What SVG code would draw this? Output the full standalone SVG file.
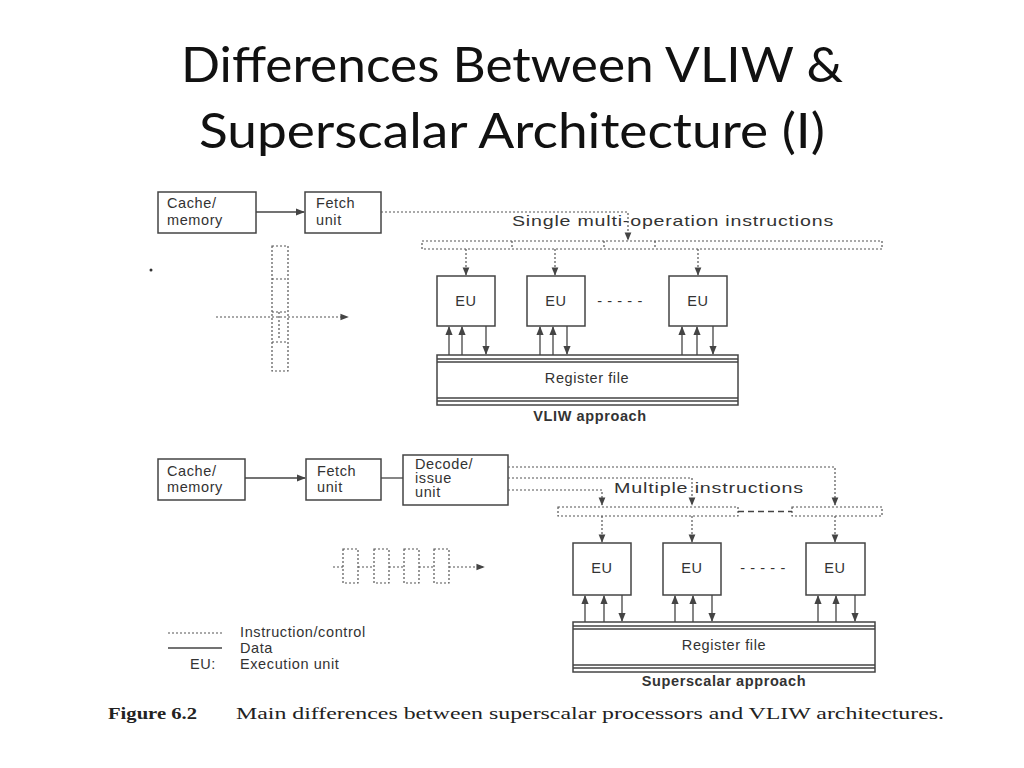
<svg xmlns="http://www.w3.org/2000/svg" width="1024" height="768" viewBox="0 0 1024 768">
<style>
.t{font-family:"Liberation Sans",Arial,sans-serif;font-size:14.5px;letter-spacing:0.6px;fill:#333}
.b{font-weight:bold}
.box{fill:#fff;stroke:#444;stroke-width:1.5}
.s{stroke:#444;stroke-width:1.3;fill:none}
.d{stroke:#555;stroke-width:1.2;fill:none;stroke-dasharray:2,2}
.ttl{font-family:Lato,"Open Sans",sans-serif;font-size:49px;fill:#111;text-anchor:middle}
</style>
<defs>
<marker id="a" viewBox="0 0 10 10" refX="9" refY="5" markerWidth="7" markerHeight="7" orient="auto"><path d="M0,1 L10,5 L0,9 z" fill="#444"/></marker>
</defs>
<rect width="1024" height="768" fill="#fff"/>
<text class="ttl" x="512" y="82" textLength="662" lengthAdjust="spacingAndGlyphs">Differences Between VLIW &amp;</text>
<text class="ttl" x="512" y="148" textLength="626" lengthAdjust="spacingAndGlyphs">Superscalar Architecture (I)</text>

<g id="vliw-cache"><rect class="box" x="158" y="192" width="98" height="41"/><text class="t" x="167" y="208">Cache/</text><text class="t" x="167" y="225">memory</text></g>
<g id="vliw-fetch"><rect class="box" x="305" y="192" width="76" height="41"/><text class="t" x="316" y="208">Fetch</text><text class="t" x="316" y="225">unit</text></g>
<text class="t" x="512" y="226" textLength="322" lengthAdjust="spacingAndGlyphs">Single multi-operation instructions</text>
<g id="vliw-bar"><rect class="d" x="422" y="241" width="460" height="8"/><path class="d" d="M512,241V249M604,241V249M655,241V249"/></g>
<g id="vliw-eu1"><rect class="box" x="437" y="276" width="58" height="50"/><text class="t" x="466" y="306" text-anchor="middle">EU</text></g>
<g id="vliw-eu2"><rect class="box" x="527" y="276" width="58" height="50"/><text class="t" x="556" y="306" text-anchor="middle">EU</text></g>
<g id="vliw-eu3"><rect class="box" x="669" y="276" width="58" height="50"/><text class="t" x="698" y="306" text-anchor="middle">EU</text></g>
<text class="t" x="620" y="306" text-anchor="middle">- - - - -</text>
<g id="vliw-reg"><rect class="box" x="437" y="355" width="301" height="50"/><path class="s" d="M437,359H738M437,362H738M437,398H738M437,401H738"/><text class="t" x="587" y="383" text-anchor="middle">Register file</text></g>
<text class="t b" x="590" y="421" text-anchor="middle">VLIW approach</text>
<g id="vliw-strip"><rect class="d" x="272" y="246" width="16" height="125"/><path class="d" d="M272,279H288M272,312H288M272,342H288M279,312V340"/></g>
<circle cx="151" cy="270" r="1.5" fill="#333"/>

<g id="ss-cache"><rect class="box" x="158" y="459" width="87" height="41"/><text class="t" x="167" y="476">Cache/</text><text class="t" x="167" y="492">memory</text></g>
<g id="ss-fetch"><rect class="box" x="306" y="459" width="75" height="41"/><text class="t" x="317" y="476">Fetch</text><text class="t" x="317" y="492">unit</text></g>
<g id="ss-decode"><rect class="box" x="403" y="455" width="105" height="50"/><text class="t" x="415" y="469">Decode/</text><text class="t" x="415" y="483">issue</text><text class="t" x="415" y="497">unit</text></g>
<text class="t" x="614" y="493" textLength="190" lengthAdjust="spacingAndGlyphs">Multiple instructions</text>
<g id="ss-bar"><rect class="d" x="558" y="507" width="180" height="9"/><rect class="d" x="792" y="507" width="90" height="9"/><path class="s" d="M738,511.5H792" stroke-dasharray="6,4"/></g>
<g id="ss-eu1"><rect class="box" x="573" y="543" width="58" height="52"/><text class="t" x="602" y="573" text-anchor="middle">EU</text></g>
<g id="ss-eu2"><rect class="box" x="663" y="543" width="58" height="52"/><text class="t" x="692" y="573" text-anchor="middle">EU</text></g>
<g id="ss-eu3"><rect class="box" x="806" y="543" width="59" height="52"/><text class="t" x="835" y="573" text-anchor="middle">EU</text></g>
<text class="t" x="763" y="573" text-anchor="middle">- - - - -</text>
<g id="ss-reg"><rect class="box" x="573" y="622" width="302" height="50"/><path class="s" d="M573,626H875M573,629H875M573,665H875M573,668H875"/><text class="t" x="724" y="650" text-anchor="middle">Register file</text></g>
<text class="t b" x="724" y="686" text-anchor="middle">Superscalar approach</text>
<g id="ss-pipe"><rect class="d" x="343" y="549" width="15" height="34"/><rect class="d" x="374" y="549" width="15" height="34"/><rect class="d" x="404" y="549" width="15" height="34"/><rect class="d" x="434" y="549" width="15" height="34"/></g>

<g id="legend">
<path class="d" d="M168,633H222"/><path class="s" d="M168,648H222"/>
<text class="t" x="240" y="637">Instruction/control</text>
<text class="t" x="240" y="653">Data</text>
<text class="t" x="190" y="669">EU:</text><text class="t" x="240" y="669">Execution unit</text>
</g>
<text x="108" y="719" font-family="'Liberation Serif',serif" font-size="16" font-weight="bold" fill="#222" textLength="89" lengthAdjust="spacingAndGlyphs">Figure 6.2</text>
<text x="236" y="719" font-family="'Liberation Serif',serif" font-size="16" fill="#222" textLength="708" lengthAdjust="spacingAndGlyphs">Main differences between superscalar processors and VLIW architectures.</text>

<g id="connectors">
<path class="s" d="M256,212H304" marker-end="url(#a)"/>
<path class="d" d="M381,212H628V240" marker-end="url(#a)"/>
<path class="d" d="M466,249V275" marker-end="url(#a)"/>
<path class="d" d="M555,249V275" marker-end="url(#a)"/>
<path class="d" d="M698,249V275" marker-end="url(#a)"/>
<path class="s" d="M449,355V327" marker-end="url(#a)"/><path class="s" d="M462,355V327" marker-end="url(#a)"/><path class="s" d="M486,326V354" marker-end="url(#a)"/>
<path class="s" d="M540,355V327" marker-end="url(#a)"/><path class="s" d="M553,355V327" marker-end="url(#a)"/><path class="s" d="M567,326V354" marker-end="url(#a)"/>
<path class="s" d="M682,355V327" marker-end="url(#a)"/><path class="s" d="M697,355V327" marker-end="url(#a)"/><path class="s" d="M713,326V354" marker-end="url(#a)"/>
<path class="d" d="M216,317H348" marker-end="url(#a)"/>
<path class="s" d="M245,478H305" marker-end="url(#a)"/>
<path class="s" d="M381,478H403"/>
<path class="d" d="M508,467H835V505" marker-end="url(#a)"/>
<path class="d" d="M508,478H692V505" marker-end="url(#a)"/>
<path class="d" d="M508,490H602V505" marker-end="url(#a)"/>
<path class="d" d="M602,516V542" marker-end="url(#a)"/><path class="d" d="M692,516V542" marker-end="url(#a)"/><path class="d" d="M835,516V542" marker-end="url(#a)"/>
<path class="s" d="M585,622V596" marker-end="url(#a)"/><path class="s" d="M604,622V596" marker-end="url(#a)"/><path class="s" d="M622,595V621" marker-end="url(#a)"/>
<path class="s" d="M675,622V596" marker-end="url(#a)"/><path class="s" d="M693,622V596" marker-end="url(#a)"/><path class="s" d="M712,595V621" marker-end="url(#a)"/>
<path class="s" d="M818,622V596" marker-end="url(#a)"/><path class="s" d="M836,622V596" marker-end="url(#a)"/><path class="s" d="M855,595V621" marker-end="url(#a)"/>
<path class="d" d="M333,567H343M358,567H374M389,567H404M419,567H434M449,567H484" marker-end="url(#a)"/>
</g>
</svg>
